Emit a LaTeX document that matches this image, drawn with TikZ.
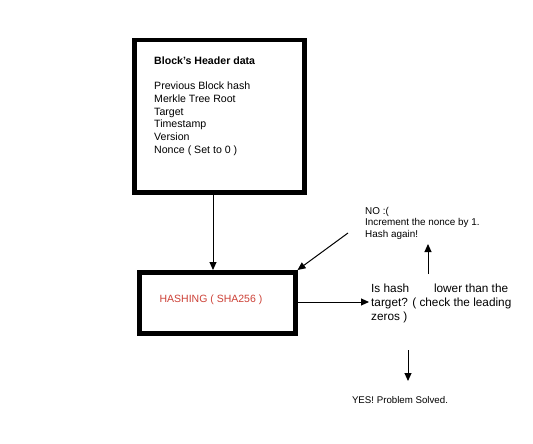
\documentclass[tikz,border=0pt]{standalone}
\usepackage{fontspec}
\setmainfont{Liberation Sans}
\usetikzlibrary{arrows.meta}
\definecolor{hashred}{RGB}{205,65,55}
\begin{document}
\begin{tikzpicture}[x=1pt,y=-1pt,
  bigbox/.style={draw=black,line width=4.5pt,fill=white},
  conn/.style={draw=black,line width=1pt,-{Triangle[length=8pt,width=7pt]}},
  txt/.style={inner sep=0pt,anchor=north west,align=left,font=\fontsize{10.6}{12.7}\selectfont}]
\useasboundingbox (0,0) rectangle (533,444);
\node[bigbox,minimum width=170pt,minimum height=152pt,anchor=north west,inner sep=0pt] (hdr) at (132,38) {};
\node[txt] (hdrtxt) at (154,57) {\textbf{Block's Header data}\\[12.3pt]Previous Block hash\\Merkle Tree Root\\Target\\Timestamp\\Version\\Nonce ( Set to 0 )};
\node[bigbox,minimum width=156pt,minimum height=61pt,anchor=north west,inner sep=0pt] (hash) at (137,270) {};
\node[inner sep=0pt,text=hashred,font=\fontsize{10.5}{12}\selectfont] (hashtxt) at (211,300) {HASHING ( SHA256 )};
\node[txt,font=\fontsize{11.8}{14}\selectfont] (q) at (371,284) {Is hash\hspace{2.1em}lower than the\\target? ( check the leading\\zeros )};
\node[txt,font=\fontsize{9.9}{11.5}\selectfont] (no) at (365,207) {NO :(\\Increment the nonce by 1.\\Hash again!};
\node[inner sep=0pt,font=\fontsize{9.7}{10}\selectfont] (yes) at (400,400) {YES! Problem Solved.};
\coordinate (dnA) at (213,192);
\coordinate (dnB) at (213,267);
\coordinate (qin) at (369,302);
\coordinate (upS) at (428,274);
\coordinate (upE) at (428,244);
\coordinate (noS) at (348,233);
\coordinate (dnS) at (408,350);
\coordinate (dnE) at (408,381);
\draw[conn] (hdr.south -| dnA) -- (hash.north -| dnB);
\draw[conn] (hash.east |- qin) -- (qin);
\draw[conn] (upS) -- (upE);
\draw[conn] (noS) -- (hash.north east);
\draw[conn] (dnS) -- (dnE);
\end{tikzpicture}
\end{document}
